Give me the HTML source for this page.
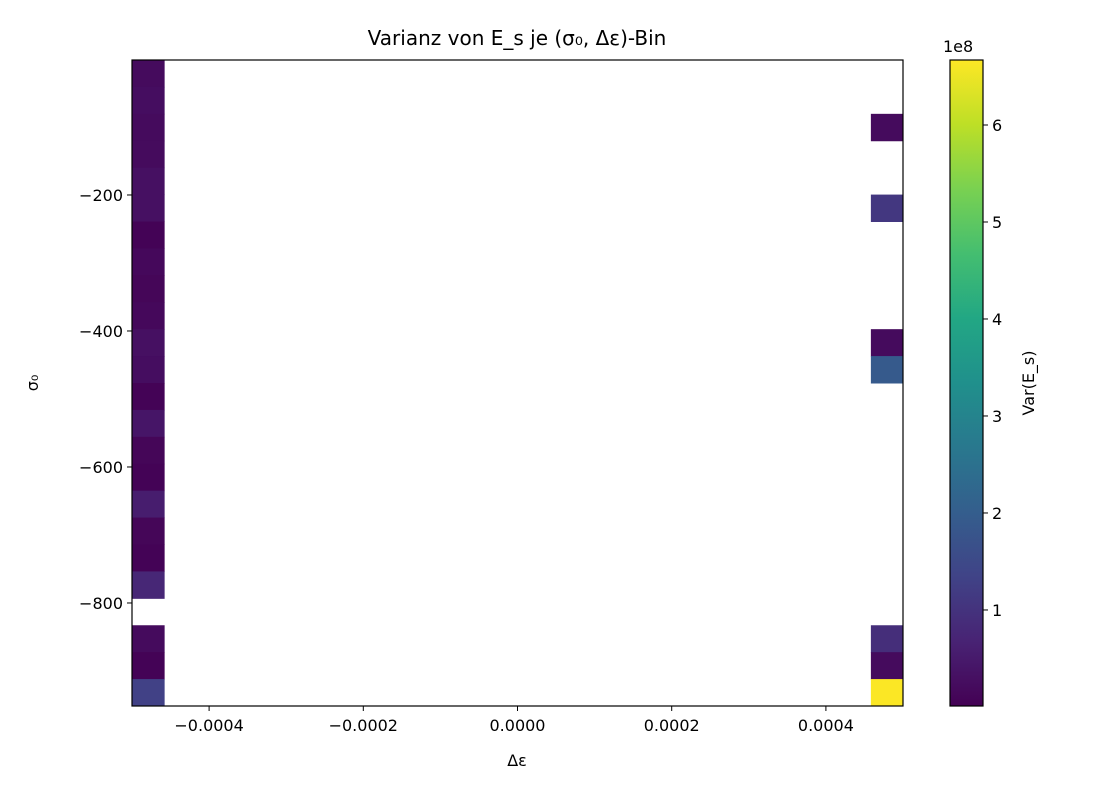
<!DOCTYPE html>
<html><head><meta charset="utf-8"><style>
body{margin:0;background:#fff;font-family:"Liberation Sans","DejaVu Sans",sans-serif}
svg text{font-family:"DejaVu Sans","Liberation Sans",sans-serif;fill:#000}
</style></head><body>
<svg id="c" width="1120" height="800"></svg>
<script>
const xEdgesMin=-0.0005, xEdgesMax=0.0005, nX=24;
const yMin=-951.5, yMax=-1.5, nY=24;
const xTicks=[-0.0004,-0.0002,0,0.0002,0.0004];
const xTickLabels=["\u22120.0004","\u22120.0002","0.0000","0.0002","0.0004"];
const yTicks=[-200,-400,-600,-800];
const yTickLabels=["\u2212200","\u2212400","\u2212600","\u2212800"];
const cbTicks=[1,2,3,4,5,6];
// values in units of 1e8, row 0 = top
const leftCol=[0.2,0.25,0.2,0.2,0.3,0.3,0.05,0.15,0.1,0.15,0.3,0.25,0.05,0.4,0.1,0.05,0.55,0.1,0.05,0.75,null,0.2,0.05,1.3];
const rightCol=[null,null,0.2,null,null,1.1,null,null,null,null,0.2,1.9,null,null,null,null,null,null,null,null,null,0.9,0.2,6.65];
const vMin=0.01, vMax=6.67;
const vir=[[68,1,84],[72,35,116],[64,67,135],[52,94,141],[41,120,142],[32,144,140],[34,167,132],[68,190,112],[121,209,81],[189,223,38],[253,231,37]];
function cmap(t){t=Math.max(0,Math.min(1,t));const f=t*10,i=Math.min(9,Math.floor(f)),r=f-i;const a=vir[i],b=vir[i+1];return `rgb(${a.map((v,k)=>Math.round(v+(b[k]-v)*r)).join(',')})`;}
const svg=document.getElementById('c');const NS='http://www.w3.org/2000/svg';
function el(t,a,txt){const e=document.createElementNS(NS,t);for(const k in a)e.setAttribute(k,a[k]);if(txt!==undefined)e.textContent=txt;svg.appendChild(e);return e;}
const L=132,R=903,T=60,B=706;
const sx=v=>L+(v-xEdgesMin)/(xEdgesMax-xEdgesMin)*(R-L);
const sy=v=>T+(yMax-v)/(yMax-yMin)*(B-T);
const cw=(R-L)/nX, ch=(B-T)/nY;
function drawCol(arr,col,name){arr.forEach((v,i)=>{if(v===null)return;
const r=el('rect',{x:L+col*cw,y:T+i*ch,width:cw+0.5,height:ch+0.5,fill:cmap((v-vMin)/(vMax-vMin))});

});}
drawCol(leftCol,0,'left');drawCol(rightCol,nX-1,'right');
const fr=el('rect',{x:L,y:T,width:R-L,height:B-T,fill:'none',stroke:'#000','stroke-width':1.2});

xTicks.forEach((v,i)=>{const x=sx(v);el('line',{x1:x,x2:x,y1:B,y2:B+5,stroke:'#000'});
const t=el('text',{x:x,y:B+25,'text-anchor':'middle','font-size':16},xTickLabels[i]);
});
yTicks.forEach((v,i)=>{const y=sy(v);el('line',{x1:L-5,x2:L,y1:y,y2:y,stroke:'#000'});
const t=el('text',{x:L-9,y:y+6,'text-anchor':'end','font-size':16},yTickLabels[i]);
});
let t=el('text',{x:517,y:766,'text-anchor':'middle','font-size':16},'Δε');
t=el('text',{x:0,y:0,'text-anchor':'middle','font-size':16,transform:'translate(38,383) rotate(-90)'},'σ₀');
t=el('text',{x:517,y:45,'text-anchor':'middle','font-size':20},'Varianz von E_s je (σ₀, Δε)-Bin');
// colorbar
const CL=950,CR=983;
const defs=el('defs',{});const g=document.createElementNS(NS,'linearGradient');g.setAttribute('id','vg');g.setAttribute('x1',0);g.setAttribute('x2',0);g.setAttribute('y1',1);g.setAttribute('y2',0);defs.appendChild(g);
vir.forEach((c,i)=>{const s=document.createElementNS(NS,'stop');s.setAttribute('offset',i/10);s.setAttribute('stop-color',`rgb(${c})`);g.appendChild(s);});
const cb=el('rect',{x:CL,y:T,width:CR-CL,height:B-T,fill:'url(#vg)',stroke:'#000','stroke-width':1.2});

const cy=v=>B-(v-vMin)/(vMax-vMin)*(B-T);
cbTicks.forEach(v=>{const y=cy(v);el('line',{x1:CR,x2:CR+5,y1:y,y2:y,stroke:'#000'});
const tt=el('text',{x:CR+9,y:y+6,'font-size':16},String(v));});
t=el('text',{x:943,y:52,'font-size':16},'1e8');
t=el('text',{x:0,y:0,'text-anchor':'middle','font-size':16,transform:'translate(1034,383) rotate(-90)'},'Var(E_s)');
</script></body></html>
